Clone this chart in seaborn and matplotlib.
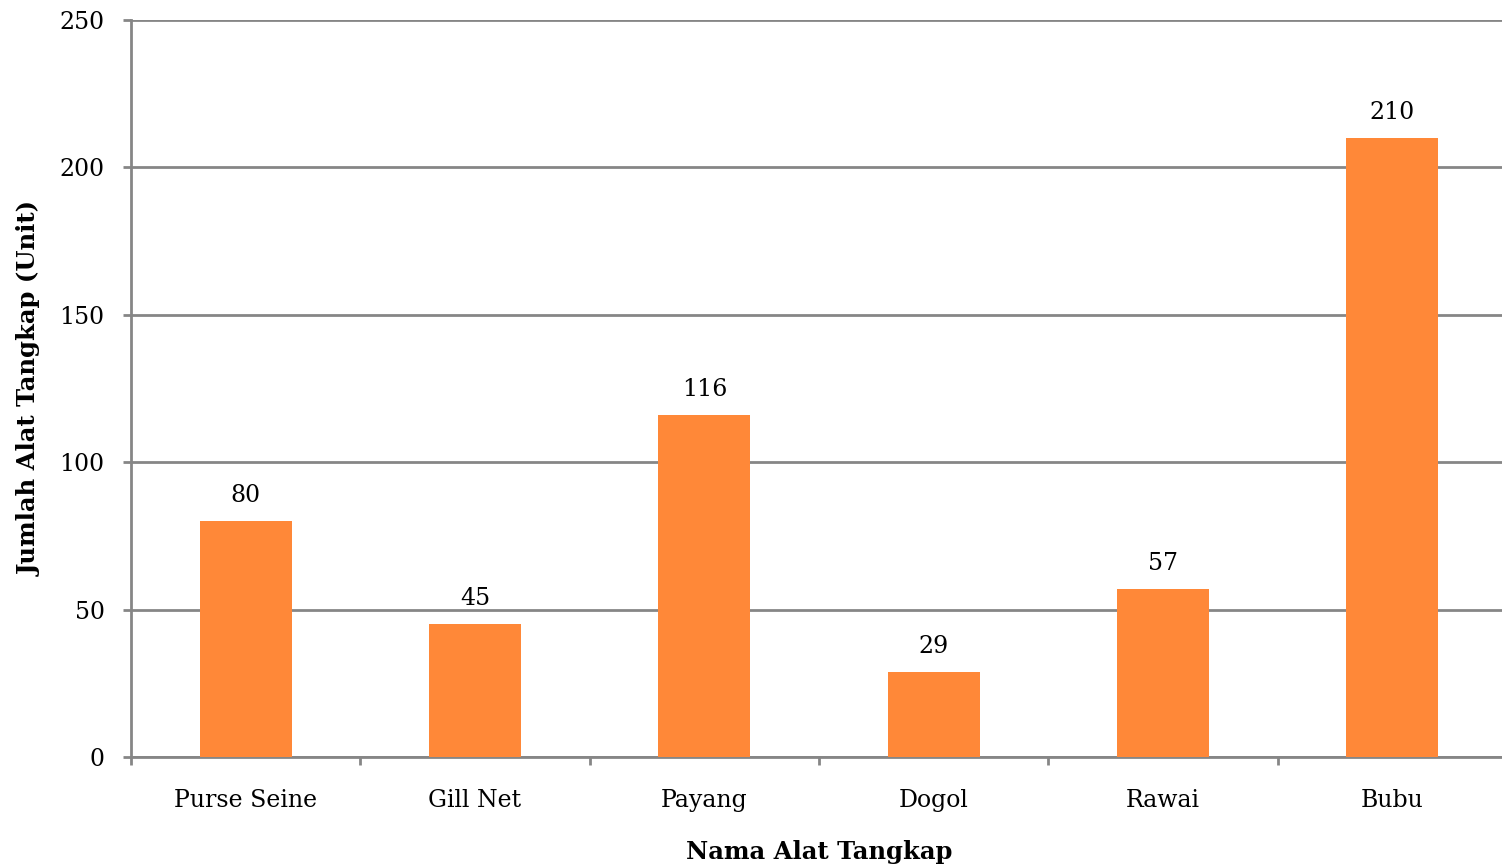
import matplotlib
matplotlib.use("Agg")
import matplotlib.pyplot as plt
import seaborn as sns
import pandas as pd
import numpy as np

# Data: number of fishing gear units by type
gear_types = ["Purse Seine", "Gill Net", "Payang", "Dogol", "Rawai", "Bubu"]
unit_counts = [80, 45, 116, 29, 57, 210]
y_ticks = [0, 50, 100, 150, 200, 250]

df = pd.DataFrame({"gear": gear_types, "units": unit_counts})

sns.set_theme(style="white")
plt.rcParams["font.family"] = ["DejaVu Serif"]

grid_color = "#868686"
bar_color = "#FF8838"
tick_fs = 17
label_fs = 17.5

fig = plt.figure(figsize=(15.02, 8.66), dpi=100)
ax = fig.add_axes([131 / 1502, 109 / 866, 1376 / 1502, 737 / 866])

sns.barplot(data=df, x="gear", y="units", color=bar_color, width=0.4,
            saturation=1, ax=ax, zorder=3, edgecolor="none")

ax.set_xlim(-0.5, len(gear_types) - 0.5)
ax.set_ylim(0, 250)
ax.set_yticks(y_ticks)
ax.set_yticklabels([str(v) for v in y_ticks], fontsize=tick_fs, color="black")

# Category labels at bar centres, tick marks at category boundaries
ax.set_xticks(range(len(gear_types)))
ax.set_xticklabels(gear_types, fontsize=tick_fs, color="black")
ax.set_xticks(np.arange(-0.5, len(gear_types), 1.0), minor=True)
ax.tick_params(axis="x", which="major", length=0, pad=23)
ax.tick_params(axis="x", which="minor", length=6, width=2, color=grid_color,
               direction="out", bottom=True)
ax.tick_params(axis="y", which="major", length=6, width=2, color=grid_color,
               direction="out", left=True, pad=13)

ax.grid(axis="y", color=grid_color, linewidth=2, zorder=0)
ax.grid(axis="x", visible=False)
ax.set_axisbelow(True)

for side in ["top", "right"]:
    ax.spines[side].set_visible(False)
for side in ["left", "bottom"]:
    ax.spines[side].set_color(grid_color)
    ax.spines[side].set_linewidth(2)

for i, v in enumerate(unit_counts):
    ax.annotate(str(v), (i, v), xytext=(0, 10), textcoords="offset points",
                ha="center", va="bottom", fontsize=tick_fs, color="black")

ax.set_xlabel("Nama Alat Tangkap", fontsize=label_fs, fontweight="bold",
              color="black", labelpad=20)
ax.set_ylabel("Jumlah Alat Tangkap (Unit)", fontsize=label_fs, fontweight="bold",
              color="black", labelpad=13)

fig.savefig("out.png", dpi=100)
